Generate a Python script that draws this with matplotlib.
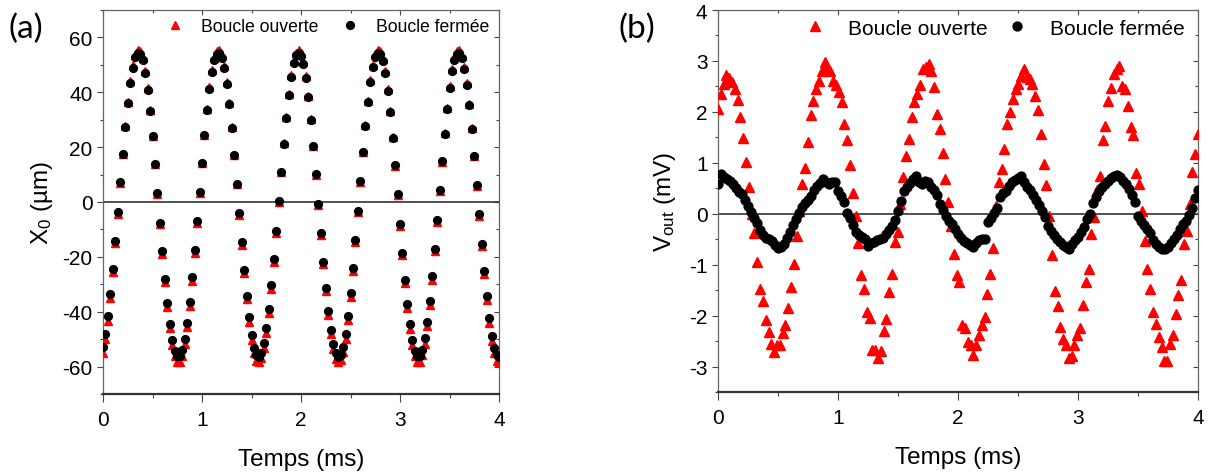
import numpy as np
import matplotlib
matplotlib.use("Agg")
import matplotlib.pyplot as plt
from matplotlib.ticker import MultipleLocator

plt.rcParams['font.family'] = ['Liberation Sans', 'DejaVu Sans']
plt.rcParams['axes.unicode_minus'] = False
plt.rcParams['mathtext.default'] = 'regular'

# ---------------- data ----------------
t_start, t_end = 0.0, 4.0   # ms

# (a) X0 (um), open loop (red triangles)
x0_open = [
    -54.9, -50.0, -43.3, -35.1, -25.5, -15.1, -4.2, 6.9, 17.6, 27.6, 36.6, 44.0, 49.8, 53.6, 55.4, 55.0,
    52.5, 47.9, 41.5, 33.5, 24.1, 13.8, 2.9, -8.2, -19.0, -29.1, -38.2, -46.0, -52.0, -56.2, -58.3, -58.2,
    -56.0, -51.8, -45.7, -37.9, -28.7, -18.5, -7.7, 3.4, 14.3, 24.6, 33.9, 41.8, 48.2, 52.6, 55.1, 55.4,
    53.5, 49.6, 43.7, 36.2, 27.2, 17.2, 6.4, -4.6, -15.6, -26.0, -35.5, -43.7, -50.3, -55.1, -57.8, -58.5,
    -56.9, -53.4, -47.8, -40.5, -31.7, -21.8, -11.2, -0.1, 10.8, 21.4, 31.0, 39.5, 46.3, 51.4, 54.5, 55.5,
    54.3, 51.1, 45.8, 38.8, 30.2, 20.5, 9.9, -1.1, -12.1, -22.7, -32.6, -41.2, -48.3, -53.7, -57.2, -58.5,
    -57.7, -54.7, -49.8, -43.0, -34.7, -25.1, -14.6, -3.7, 7.4, 18.1, 28.1, 36.9, 44.3, 50.0, 53.8, 55.4,
    54.9, 52.3, 47.7, 41.2, 33.1, 23.7, 13.3, 2.4, -8.6, -19.4, -29.5, -38.6, -46.3, -52.2, -56.3, -58.3,
    -58.2, -55.9, -51.6, -45.3, -37.5, -28.3, -18.0, -7.2, 3.9, 14.7, 25.0, 34.2, 42.2, 48.4, 52.8, 55.1,
    55.3, 53.4, 49.4, 43.5, 35.8, 26.8, 16.7, 5.9, -5.1, -16.0, -26.4, -35.8, -44.0, -50.5, -55.2, -57.9,
    -58.4]

# (a) X0 (um), closed loop (black circles)
x0_closed = [
    -53.0, -48.3, -41.7, -33.7, -24.4, -14.2, -3.6, 7.2, 17.6, 27.4, 36.1, 43.4, 49.0, 52.7, 54.4, 54.0,
    51.6, 47.1, 40.9, 33.1, 24.0, 13.9, 3.3, -7.5, -18.0, -27.9, -36.8, -44.3, -50.2, -54.2, -56.3, -56.2,
    -54.1, -50.0, -44.0, -36.4, -27.5, -17.6, -7.0, 3.8, 14.4, 24.4, 33.4, 41.2, 47.4, 51.7, 54.1, 54.4,
    52.6, 48.8, 43.1, 35.7, 27.0, 17.2, 6.7, -4.1, -14.7, -24.8, -34.1, -42.0, -48.5, -53.1, -55.8, -56.5,
    -55.0, -51.5, -46.1, -39.0, -30.4, -20.8, -10.4, 0.3, 11.0, 21.3, 30.7, 38.9, 45.6, 50.5, 53.5, 54.5,
    53.4, 50.2, 45.1, 38.2, 29.9, 20.4, 10.1, -0.6, -11.3, -21.7, -31.2, -39.7, -46.6, -51.9, -55.2, -56.5,
    -55.7, -52.8, -48.0, -41.4, -33.3, -24.0, -13.8, -3.1, 7.6, 18.1, 27.8, 36.4, 43.6, 49.2, 52.8, 54.4,
    54.0, 51.4, 46.9, 40.6, 32.7, 23.5, 13.4, 2.8, -7.9, -18.5, -28.3, -37.1, -44.6, -50.4, -54.4, -56.3,
    -56.2, -53.9, -49.7, -43.7, -36.0, -27.1, -17.1, -6.5, 4.2, 14.8, 24.8, 33.8, 41.5, 47.6, 51.9, 54.1,
    54.3, 52.4, 48.5, 42.8, 35.4, 26.6, 16.7, 6.2, -4.5, -15.2, -25.3, -34.4, -42.4, -48.7, -53.3, -55.9,
    -56.4]

# (b) Vout (mV), open loop (red triangles)
vout_open = [
    2.06, 2.35, 2.55, 2.73, 2.67, 2.58, 2.45, 2.24, 1.90, 1.48, 1.01, 0.52, 0.00, -0.37, -0.95, -1.47,
    -1.72, -2.09, -2.32, -2.55, -2.71, -2.58, -2.58, -2.35, -2.19, -1.85, -1.44, -0.99, -0.44, 0.05, 0.59, 0.90,
    1.40, 1.93, 2.22, 2.45, 2.61, 2.81, 2.97, 2.88, 2.81, 2.61, 2.52, 2.39, 2.19, 1.76, 1.44, 0.95,
    0.40, -0.05, -0.58, -1.20, -1.47, -1.93, -2.05, -2.68, -2.68, -2.84, -2.69, -2.30, -2.06, -1.54, -1.18, -0.55,
    -0.36, 0.20, 0.72, 1.14, 1.47, 1.90, 2.19, 2.35, 2.52, 2.84, 2.88, 2.94, 2.81, 2.48, 1.96, 1.67,
    1.20, 0.69, 0.23, -0.25, -0.79, -1.20, -1.34, -2.19, -2.25, -2.51, -2.58, -2.77, -2.58, -2.38, -2.19, -2.03,
    -1.57, -1.18, -0.68, 0.16, 0.62, 0.87, 1.27, 1.76, 1.99, 2.25, 2.45, 2.55, 2.70, 2.84, 2.68, 2.65,
    2.55, 2.32, 2.03, 1.57, 0.98, 0.56, -0.05, -0.82, -1.51, -1.81, -2.22, -2.45, -2.58, -2.84, -2.80, -2.58,
    -2.38, -2.25, -1.80, -1.34, -1.08, -0.40, -0.07, 0.46, 0.75, 1.44, 1.73, 2.22, 2.46, 2.75, 2.84, 2.91,
    2.50, 2.45, 2.12, 1.70, 1.54, 0.80, 0.59, 0.05, -0.53, -1.08, -1.47, -1.93, -2.16, -2.42, -2.61, -2.90,
    -2.90, -2.55, -2.38, -1.96, -1.60, -1.31, -0.60, -0.34, 0.20, 0.82, 1.18, 1.57]

# (b) Vout (mV), closed loop (black circles)
vout_closed = [
    0.58, 0.78, 0.72, 0.68, 0.64, 0.58, 0.50, 0.42, 0.38, 0.26, 0.15, 0.03, -0.08, -0.18, -0.32, -0.42,
    -0.48, -0.50, -0.53, -0.62, -0.68, -0.66, -0.60, -0.47, -0.36, -0.22, -0.10, 0.02, 0.13, 0.22, 0.27, 0.34,
    0.47, 0.54, 0.60, 0.68, 0.62, 0.58, 0.62, 0.63, 0.45, 0.35, 0.24, 0.02, -0.08, -0.22, -0.35, -0.41,
    -0.45, -0.50, -0.64, -0.58, -0.55, -0.52, -0.50, -0.47, -0.40, -0.32, -0.24, -0.12, 0.05, 0.25, 0.44, 0.53,
    0.60, 0.68, 0.75, 0.62, 0.58, 0.64, 0.62, 0.53, 0.46, 0.37, 0.20, 0.08, -0.04, -0.14, -0.20, -0.29,
    -0.40, -0.47, -0.54, -0.58, -0.62, -0.65, -0.58, -0.51, -0.49, -0.49, -0.17, -0.08, 0.02, 0.12, 0.33, 0.41,
    0.45, 0.54, 0.62, 0.66, 0.71, 0.75, 0.62, 0.53, 0.46, 0.36, 0.26, 0.18, 0.05, -0.07, -0.24, -0.33,
    -0.41, -0.49, -0.55, -0.62, -0.66, -0.69, -0.60, -0.52, -0.46, -0.36, -0.26, -0.11, 0.00, 0.21, 0.33, 0.44,
    0.53, 0.58, 0.64, 0.71, 0.75, 0.77, 0.72, 0.65, 0.58, 0.48, 0.37, 0.23, -0.04, -0.14, -0.22, -0.29,
    -0.38, -0.52, -0.60, -0.65, -0.69, -0.70, -0.66, -0.58, -0.50, -0.41, -0.29, -0.20, -0.14, -0.02, 0.12, 0.30,
    0.46]

series_labels = ["Boucle ouverte", "Boucle fermée"]
x_label = "Temps (ms)"
y_labels = [r"X$_0$ (µm)", r"V$_{out}$ (mV)"]
panel_tags = ["(a)", "(b)"]

# sample times (uniform sampling over the 0-4 ms window)
t_x0_open = np.linspace(t_start, t_end, len(x0_open))
t_x0_closed = np.linspace(t_start, t_end, len(x0_closed))
t_v_open = np.linspace(t_start, t_end, len(vout_open))
t_v_closed = np.linspace(t_start, t_end, len(vout_closed))

# ---------------- figure ----------------
W, H = 1213, 477
fig = plt.figure(figsize=(W / 100, H / 100), dpi=100)


def rect(l, t, r, b):
    return [l / W, 1 - b / H, (r - l) / W, (b - t) / H]


ax_a = fig.add_axes(rect(103, 11, 499, 395))
ax_b = fig.add_axes(rect(718, 11, 1198, 393))


def style(ax, ylim, ymaj, ymin):
    ax.set_xlim(t_start, t_end)
    ax.set_ylim(*ylim)
    ax.axhline(0, color='#222222', lw=1.1, zorder=1)
    ax.xaxis.set_major_locator(MultipleLocator(1))
    ax.xaxis.set_minor_locator(MultipleLocator(0.5))
    ax.yaxis.set_major_locator(MultipleLocator(ymaj))
    ax.yaxis.set_minor_locator(MultipleLocator(ymin))
    ax.tick_params(axis='y', which='major', direction='out', length=4.5, width=0.8,
                   color='#444444', labelsize=15, pad=3)
    ax.tick_params(axis='y', which='minor', direction='out', length=2.5, width=0.8, color='#444444')
    ax.tick_params(axis='x', which='major', direction='out', length=5.5, width=0.8,
                   color='#444444', labelsize=15, pad=6)
    ax.tick_params(axis='x', which='minor', direction='out', length=3, width=0.8, color='#444444')
    for s in ['left', 'top', 'right']:
        ax.spines[s].set_color('#666666')
        ax.spines[s].set_linewidth(0.9)
    ax.spines['bottom'].set_color('#333333')
    ax.spines['bottom'].set_linewidth(1.6)
    sx = ax.secondary_xaxis('top')
    sx.xaxis.set_major_locator(MultipleLocator(1))
    sx.xaxis.set_minor_locator(MultipleLocator(0.5))
    sx.tick_params(axis='x', which='major', direction='in', length=3.5, width=0.8,
                   color='#444444', labeltop=False)
    sx.tick_params(axis='x', which='minor', direction='in', length=2.5, width=0.8,
                   color='#444444', labeltop=False)
    sx.spines['top'].set_visible(False)
    sy = ax.secondary_yaxis('right')
    sy.yaxis.set_major_locator(MultipleLocator(ymaj))
    sy.yaxis.set_minor_locator(MultipleLocator(ymin))
    sy.tick_params(axis='y', which='major', direction='in', length=3.5, width=0.8,
                   color='#444444', labelright=False)
    sy.tick_params(axis='y', which='minor', direction='in', length=2.5, width=0.8,
                   color='#444444', labelright=False)
    sy.spines['right'].set_visible(False)
    ax.set_xlabel(x_label, fontsize=17.5, labelpad=14)


# panel (a)
ax_a.plot(t_x0_open, x0_open, linestyle='none', marker='^', ms=6.2, color='#ff0000',
          mec='#ff0000', label=series_labels[0], zorder=3)
ax_a.plot(t_x0_closed, x0_closed, linestyle='none', marker='o', ms=5.6, color='black',
          mec='black', label=series_labels[1], zorder=4)
style(ax_a, (-70, 70), 20, 10)
ax_a.set_ylabel(y_labels[0], fontsize=17.5, labelpad=5.5)
ax_a.legend(loc='upper right', bbox_to_anchor=(0.993, 0.997), ncol=2, frameon=False,
            fontsize=12.7, handlelength=1.0, handletextpad=0.98, columnspacing=1.3,
            borderaxespad=0.0, borderpad=0.4)

# panel (b)
ax_b.plot(t_v_open, vout_open, linestyle='none', marker='^', ms=7, color='#ff0000',
          mec='#ff0000', label=series_labels[0], zorder=3)
ax_b.plot(t_v_closed, vout_closed, linestyle='none', marker='o', ms=6.4, color='black',
          mec='black', label=series_labels[1], zorder=4)
style(ax_b, (-3.5, 4), 1, 0.5)
ax_b.set_ylabel(y_labels[1], fontsize=17.5, labelpad=8)
ax_b.legend(loc='upper right', bbox_to_anchor=(0.989, 0.999), ncol=2, frameon=False,
            fontsize=15, handlelength=1.0, handletextpad=1.09, columnspacing=0.9,
            borderaxespad=0.0, borderpad=0.4)

fig.text(8 / W, 1 - 29 / H, panel_tags[0], fontsize=24, family=['Lato', 'DejaVu Sans'],
         va='center', ha='left')
fig.text(618 / W, 1 - 29 / H, panel_tags[1], fontsize=24, family=['Lato', 'DejaVu Sans'],
         va='center', ha='left')

fig.savefig("out.png", dpi=100)
